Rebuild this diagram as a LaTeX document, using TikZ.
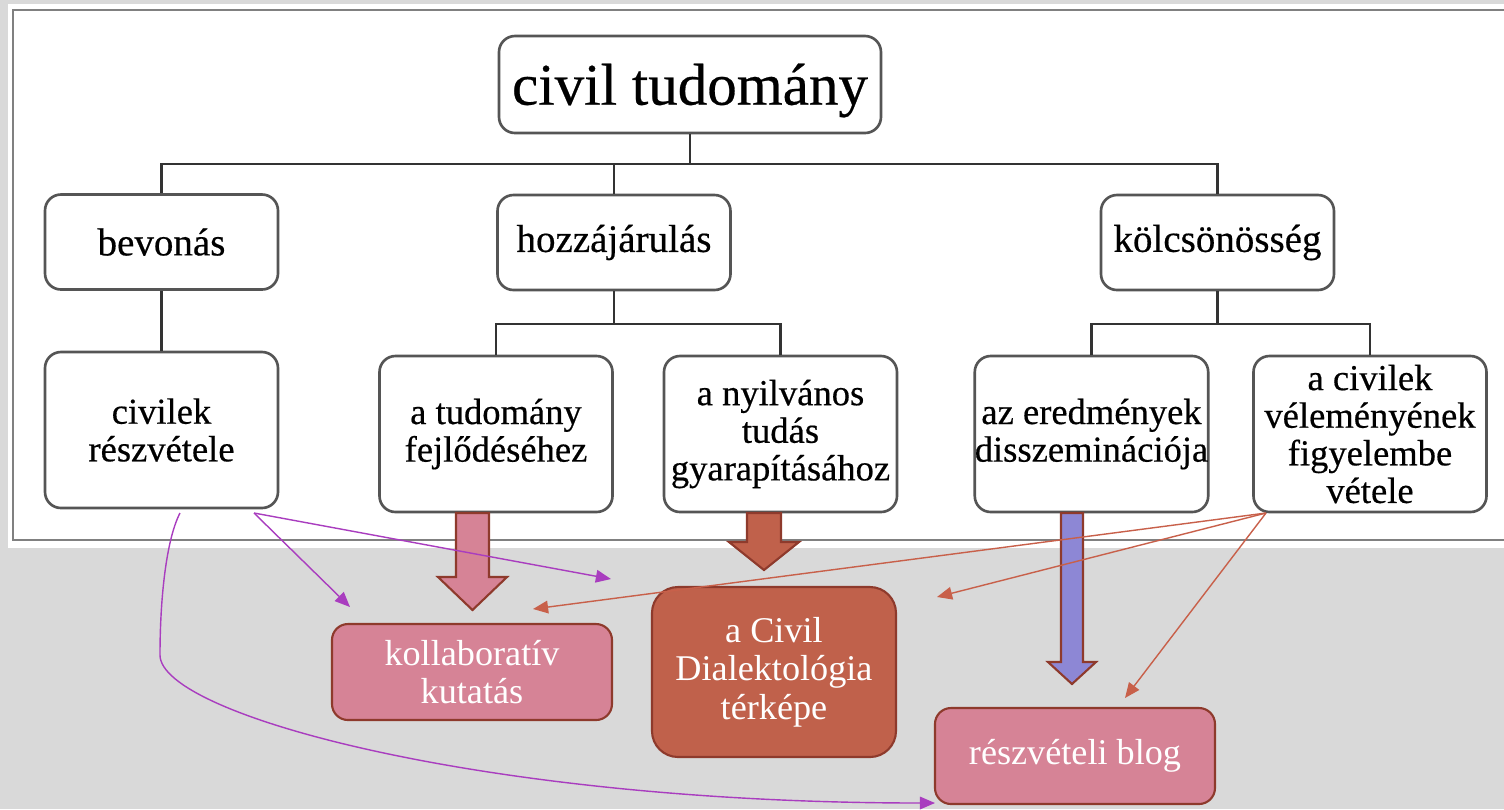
\documentclass[tikz,border=0pt]{standalone}
\usepackage{fontspec}
\setmainfont{Liberation Serif}
\newfontfamily\treefont[FakeBold=0.45]{Liberation Serif}
\usetikzlibrary{arrows.meta}

\definecolor{bggray}{HTML}{D9D9D9}
\definecolor{framegray}{HTML}{808080}
\definecolor{boxgray}{HTML}{555555}
\definecolor{rosefill}{HTML}{D68396}
\definecolor{brickfill}{HTML}{C0614B}
\definecolor{lilacfill}{HTML}{8D87D5}
\definecolor{darkrim}{HTML}{8E3A2C}
\definecolor{violetline}{HTML}{A93DBF}
\definecolor{rustline}{HTML}{C8604A}

\tikzset{
  treebox/.style={draw=boxgray, line width=0.75pt, rounded corners=1.6mm, fill=white,
    align=center, inner sep=0pt, minimum width=23.3mm},
  tophead/.style={treebox, minimum width=38.2mm, minimum height=9.7mm,
    font=\treefont\fontsize{16.8}{18}\selectfont},
  midbox/.style={treebox, minimum height=9.5mm, font=\treefont\fontsize{11.1}{11.5}\selectfont},
  leafbox/.style={treebox, minimum height=15.6mm, font=\treefont\fontsize{10.4}{10.7}\selectfont},
  resultbox/.style={draw=darkrim, line width=0.6pt, rounded corners=1.6mm, align=center,
    text=white, inner sep=0pt, font=\fontsize{10.3}{11}\selectfont},
  treeline/.style={draw=black!80, line width=0.6pt},
  bigarrow/.style={draw=darkrim, line width=0.6pt},
  thinarrow/.style={line width=0.4pt, -{Triangle[length=4.3pt,width=3.6pt]}}
}

\begin{document}
\begin{tikzpicture}[x=0.1mm, y=-0.1mm]
  \useasboundingbox (0,0) rectangle (1504,809);
  % background and the frame of the tree
  \fill[bggray] (0,0) rectangle (1504,809);
  \fill[white] (8,4) rectangle (1504,548);
  \draw[framegray, line width=0.6pt] (1504,10) -- (13,10) -- (13,540) -- (1504,540);

  % tree
  \node[tophead] (top) at (690,84.5) {\raisebox{-0.6mm}[\height][\depth]{civil tudomány}};
  \node[midbox] (bevonas) at (161.5,242) {bevonás};
  \node[midbox] (hozza) at (614,242.5) {hozzájárulás};
  \node[midbox] (kolcs) at (1217.5,242.5) {kölcsönösség};
  \node[leafbox] (civilek) at (161.5,430) {civilek\\részvétele};
  \node[leafbox] (fejl) at (496,434) {a tudomány\\fejlődéséhez};
  \node[leafbox] (nyilv) at (780.5,434) {a nyilvános\\tudás\\gyarapításához};
  \node[leafbox] (dissz) at (1091.5,434) {az eredmények\\disszeminációja};
  \node[leafbox] (vetele) at (1370,434) {a civilek\\véleményének\\figyelembe\\vétele};

  \coordinate (topbar) at (690,164);
  \coordinate (hozzabar) at (614,324);
  \coordinate (kolcsbar) at (1217.5,324);
  \draw[treeline] (top.south) -- (topbar);
  \draw[treeline] (bevonas.north) |- (topbar) -| (kolcs.north);
  \draw[treeline] (hozza.north) -- (hozza.north |- topbar);
  \draw[treeline] (bevonas.south) -- (civilek.north);
  \draw[treeline] (hozza.south) -- (hozzabar);
  \draw[treeline] (fejl.north) |- (hozzabar) -| (nyilv.north);
  \draw[treeline] (kolcs.south) -- (kolcsbar);
  \draw[treeline] (dissz.north) |- (kolcsbar) -| (vetele.north);

  % results
  \node[resultbox, fill=rosefill, minimum width=28mm, minimum height=9.6mm]
    (kollab) at (472,672) {kollaboratív\\kutatás};
  \node[resultbox, fill=brickfill, rounded corners=2.6mm, minimum width=24.4mm,
    minimum height=17mm] (terkep) at (774,672) {a Civil\\Dialektológia\\térképe};
  \node[resultbox, fill=rosefill, minimum width=28mm, minimum height=9.6mm]
    (blog) at (1075,756) {részvételi blog};

  % block arrows
  \coordinate (fejl-out) at (472.5,513);
  \coordinate (nyilv-out) at (764,513);
  \coordinate (dissz-out) at (1072,513);
  \draw[bigarrow, fill=rosefill] (fejl-out) ++(-16.5,0) -- ++(0,64) -- ++(-18,0)
    -- ++(34.5,33) -- ++(34.5,-33) -- ++(-18,0) -- ++(0,-64) -- cycle;
  \draw[bigarrow, fill=brickfill] (nyilv-out) ++(-17,0) -- ++(0,29) -- ++(-18,0)
    -- ++(35,28) -- ++(35,-28) -- ++(-18,0) -- ++(0,-29) -- cycle;
  \draw[bigarrow, fill=lilacfill] (dissz-out) ++(-11,0) -- ++(0,149) -- ++(-13,0)
    -- ++(24,22) -- ++(24,-22) -- ++(-13,0) -- ++(0,-149) -- cycle;

  % thin arrows
  \coordinate (civ-a) at (180,513);
  \coordinate (civ-b) at (254,513);
  \coordinate (vet-a) at (1266,513);
  \coordinate (kollab-in) at (350,607);
  \coordinate (gap-in) at (611,579);
  \coordinate (blog-in) at (935,803);
  \coordinate (kollab-in2) at (533,609);
  \coordinate (terkep-in) at (937,597);
  \coordinate (blog-in2) at (1125,698);
  \draw[thinarrow, violetline] (civ-b) -- (kollab-in);
  \draw[thinarrow, violetline] (civ-b) -- (gap-in);
  \draw[thinarrow, violetline] (civ-a) .. controls (166,540) and (160,600) .. (160,655)
    .. controls (160,715) and (485,803) .. (blog-in);
  \draw[thinarrow, rustline] (vet-a) -- (kollab-in2);
  \draw[thinarrow, rustline] (vet-a) -- (terkep-in);
  \draw[thinarrow, rustline] (vet-a) -- (blog-in2);
\end{tikzpicture}
\end{document}
